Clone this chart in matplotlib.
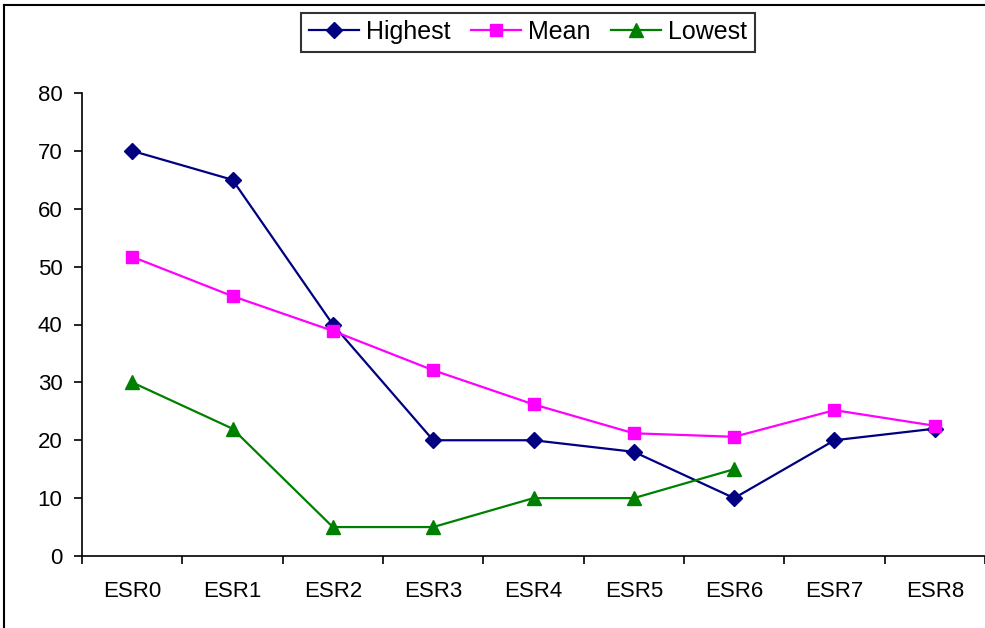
import matplotlib
matplotlib.use("Agg")
import matplotlib.pyplot as plt
from matplotlib.lines import Line2D
import numpy as np

categories = ["ESR0", "ESR1", "ESR2", "ESR3", "ESR4", "ESR5", "ESR6", "ESR7", "ESR8"]
highest = [70, 65, 40, 20, 20, 18, 10, 20, 22]
mean = [51.7, 44.9, 38.9, 32.1, 26.2, 21.2, 20.6, 25.2, 22.5]
lowest = [30, 22, 5, 5, 10, 10, 15]

plt.rcParams["font.family"] = ["Liberation Sans", "DejaVu Sans"]

fig = plt.figure(figsize=(9.85, 6.28), dpi=100)
ax = fig.add_axes([82 / 985, 1 - 556 / 628, 903 / 985, (556 - 93) / 628])

x = np.arange(len(categories))
ax.plot(x, highest, color="#000080", lw=1.6, marker="D", ms=8.5, label="Highest")
ax.plot(x, mean, color="#FF00FF", lw=1.6, marker="s", ms=8.5, label="Mean")
ax.plot(x[:len(lowest)], lowest, color="#008000", lw=1.6, marker="^", ms=10, label="Lowest")

ax.set_xlim(-0.5, len(categories) - 0.5)
ax.set_ylim(0, 80)
ax.set_yticks(range(0, 81, 10))
ax.set_xticks(x)
ax.set_xticklabels(categories)
ax.set_xticks(np.arange(-0.5, len(categories), 1), minor=True)
ax.tick_params(axis="x", which="major", length=0, pad=18, labelsize=16)
ax.tick_params(axis="x", which="minor", length=6, width=1.2, direction="out")
ax.tick_params(axis="y", length=6, width=1.2, direction="out", labelsize=16, pad=8)

for s in ("top", "right"):
    ax.spines[s].set_visible(False)
for s in ("left", "bottom"):
    ax.spines[s].set_linewidth(1.2)
ax.spines["bottom"].set_clip_on(False)

leg = fig.legend(loc="center", bbox_to_anchor=(528 / 985, 1 - 32 / 628), ncol=3,
                 fontsize=18, frameon=True, fancybox=False, edgecolor="black",
                 handlelength=2.0, handletextpad=0.3, columnspacing=0.8,
                 borderpad=0.3)
leg.get_frame().set_linewidth(1.5)

fig.add_artist(Line2D([3.5 / 985, 3.5 / 985], [0, 1 - 5 / 628], transform=fig.transFigure,
                      color="black", lw=1.5))
fig.add_artist(Line2D([3.5 / 985, 1], [1 - 5 / 628, 1 - 5 / 628], transform=fig.transFigure,
                      color="black", lw=1.5))

fig.savefig("out.png", dpi=100)
